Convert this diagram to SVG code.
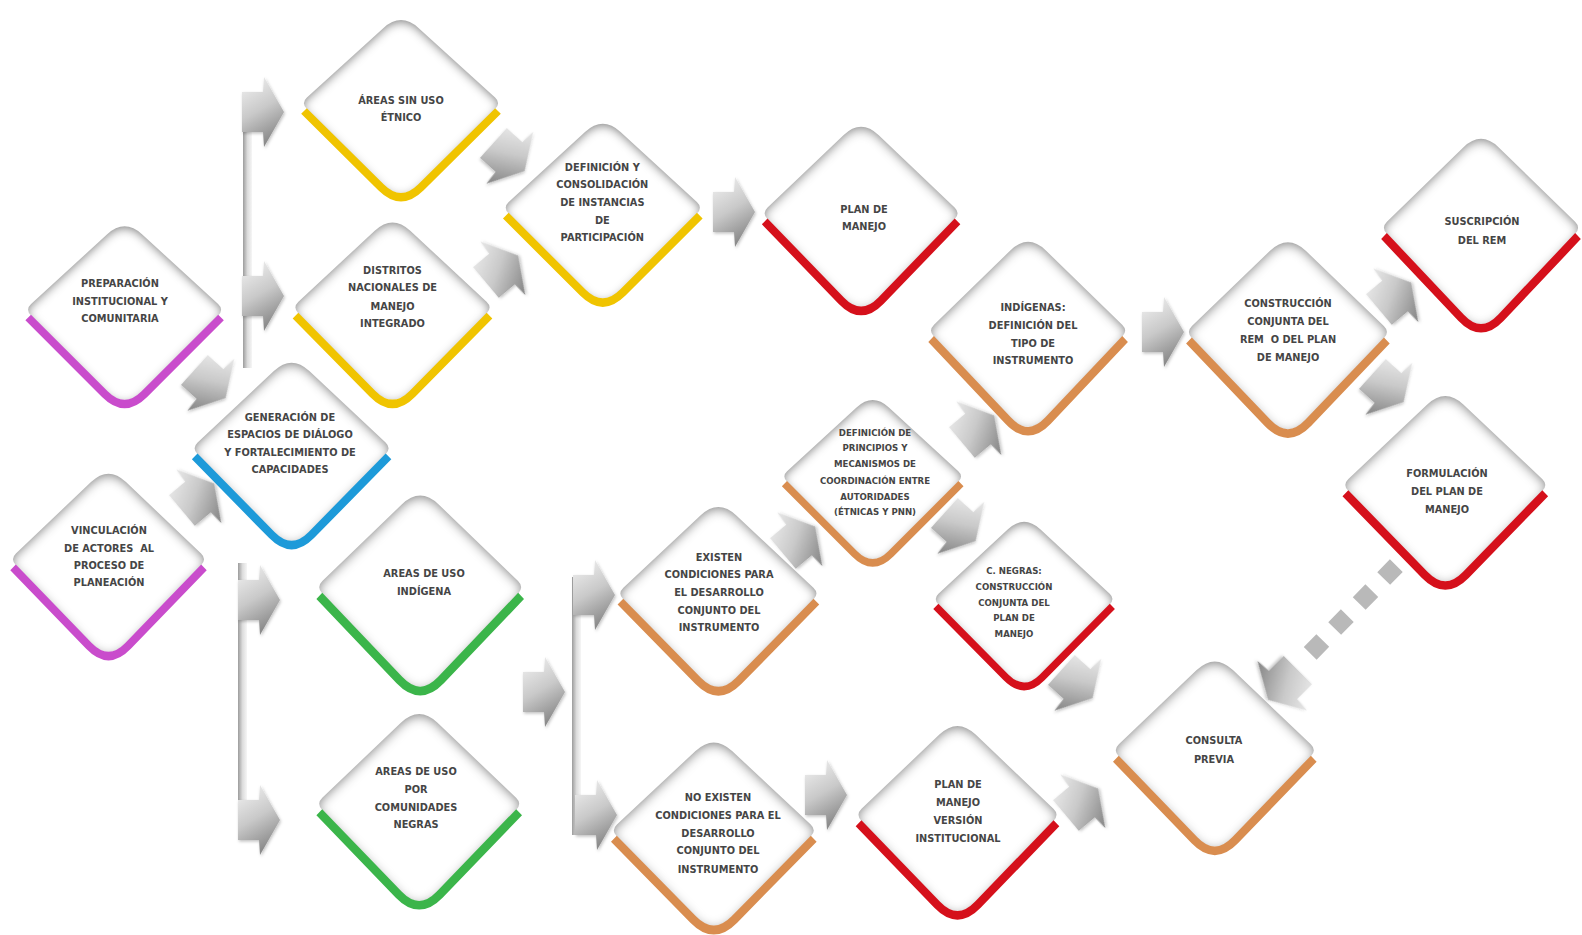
<svg xmlns="http://www.w3.org/2000/svg" xmlns:xlink="http://www.w3.org/1999/xlink" width="1582" height="935" viewBox="0 0 1582 935">
<style>
.t{font-family:"DejaVu Sans","Liberation Sans",sans-serif;font-size:9.8px;font-weight:bold;fill:#454545;text-anchor:middle}
.ts{font-size:8.6px}
.dia{fill:#ffffff;filter:url(#inner)}
.band{fill:none;stroke-width:8;stroke-linejoin:round}
.purple{stroke:#c94ccc}
.blue{stroke:#1d9ad9}
.yellow{stroke:#f0c400}
.green{stroke:#3bb54a}
.red{stroke:#d5101b}
.orange{stroke:#d98d4f}
.arr{fill:url(#ag);filter:url(#sh)}
.bar{fill:url(#bg)}
</style>
<defs>
<filter id="inner" x="-10%" y="-10%" width="120%" height="120%">
<feFlood flood-color="#808080" result="f"/>
<feComposite in="f" in2="SourceAlpha" operator="out" result="out"/>
<feGaussianBlur in="out" stdDeviation="5" result="bl"/>
<feOffset in="bl" dy="3" result="off"/>
<feComposite in="off" in2="SourceAlpha" operator="in" result="inn"/>
<feMerge><feMergeNode in="SourceGraphic"/><feMergeNode in="inn"/></feMerge>
</filter>
<filter id="sh" x="-30%" y="-30%" width="160%" height="160%">
<feDropShadow dx="1" dy="1.5" stdDeviation="1.5" flood-color="#000" flood-opacity="0.25"/>
</filter>
<linearGradient id="ag" x1="0" y1="0" x2="0.35" y2="1">
<stop offset="0" stop-color="#f4f4f4"/>
<stop offset="0.55" stop-color="#c9c9c9"/>
<stop offset="1" stop-color="#8c8c8c"/>
</linearGradient>
<linearGradient id="bg" x1="0" y1="0" x2="1" y2="0">
<stop offset="0" stop-color="#9c9c9c"/>
<stop offset="0.5" stop-color="#dcdcdc"/>
<stop offset="1" stop-color="#f6f6f6"/>
</linearGradient>
<path id="dia" d="M -17.8,-78.8 Q 0,-95 17.8,-78.8 L 94.1,-9.4 Q 100,-4 94.3,1.7 L 19.8,76.2 Q 0,96 -19.8,76.2 L -94.3,1.7 Q -100,-4 -94.1,-9.4 Z"/>
<path id="band" d="M -97,4 L -19.9,80.3 Q 0,100 19.9,80.3 L 97,4"/>
<path id="arr" d="M -21,-20 L 0,-20 L 1,-35 L 21,0 L 1,35 L 0,20 L -21,20 Z"/>
</defs>
<rect width="1582" height="935" fill="#ffffff"/>

<g id="connectors">
<rect class="bar" x="243" y="96" width="9" height="272"/>
<use href="#arr" class="arr" transform="translate(263,112)"/>
<use href="#arr" class="arr" transform="translate(263,296)"/>
<rect class="bar" x="238" y="563" width="9" height="275"/>
<use href="#arr" class="arr" transform="translate(259,600)"/>
<use href="#arr" class="arr" transform="translate(259,820)"/>
<rect class="bar" x="572" y="577" width="9" height="258"/>
<use href="#arr" class="arr" transform="translate(594,595)"/>
<use href="#arr" class="arr" transform="translate(596,815)"/>
<use href="#arr" class="arr" transform="translate(210,384) rotate(42)"/>
<use href="#arr" class="arr" transform="translate(198,497) rotate(-40)"/>
<use href="#arr" class="arr" transform="translate(509,157) rotate(42)"/>
<use href="#arr" class="arr" transform="translate(502,269) rotate(-40)"/>
<use href="#arr" class="arr" transform="translate(734,212)"/>
<use href="#arr" class="arr" transform="translate(544,692)"/>
<use href="#arr" class="arr" transform="translate(799,540) rotate(-40)"/>
<use href="#arr" class="arr" transform="translate(978,429) rotate(-40)"/>
<use href="#arr" class="arr" transform="translate(960,527) rotate(42)"/>
<use href="#arr" class="arr" transform="translate(1163,332)"/>
<use href="#arr" class="arr" transform="translate(1395,296) rotate(-40)"/>
<use href="#arr" class="arr" transform="translate(1388,388) rotate(42)"/>
<use href="#arr" class="arr" transform="translate(1077,684) rotate(42)"/>
<use href="#arr" class="arr" transform="translate(1082,802) rotate(-40)"/>
<use href="#arr" class="arr" transform="translate(826,795)"/>
<line x1="1396.3" y1="565.6" x2="1310.2" y2="653.4" stroke="#b9b9b9" stroke-width="18" stroke-dasharray="18 17"/>
<use href="#arr" class="arr" transform="translate(1283,685) rotate(135)"/>
</g>

<g id="n1">
<use href="#dia" class="dia" transform="translate(124.6,313.5) scale(0.994,1.003)"/>
<use href="#band" class="band purple" transform="translate(124.6,313.5) scale(0.994,1.003)"/>
<text class="t"><tspan x="120" y="287.3">PREPARACIÓN</tspan><tspan x="120" y="304.5">INSTITUCIONAL Y</tspan><tspan x="120" y="321.6">COMUNITARIA</tspan></text>
</g>
<g id="n2">
<use href="#dia" class="dia" transform="translate(108.5,563.2) scale(0.984,1.03)"/>
<use href="#band" class="band purple" transform="translate(108.5,563.2) scale(0.984,1.03)"/>
<text class="t"><tspan x="109" y="533.5">VINCULACIÓN</tspan><tspan x="109" y="551.6">DE ACTORES&#160; AL</tspan><tspan x="109" y="568.8">PROCESO DE</tspan><tspan x="109" y="586">PLANEACIÓN</tspan></text>
</g>
<g id="n3">
<use href="#dia" class="dia" transform="translate(291.6,452.2) scale(0.999,1.03)"/>
<use href="#band" class="band blue" transform="translate(291.6,452.2) scale(0.999,1.03)"/>
<text class="t"><tspan x="290" y="420.5">GENERACIÓN DE</tspan><tspan x="290" y="437.6">ESPACIOS DE DIÁLOGO</tspan><tspan x="290" y="455.8">Y FORTALECIMIENTO DE</tspan><tspan x="290" y="473">CAPACIDADES</tspan></text>
</g>
<g id="n4">
<use href="#dia" class="dia" transform="translate(401,107) scale(1,1)"/>
<use href="#band" class="band yellow" transform="translate(401,107) scale(1,1)"/>
<text class="t"><tspan x="401" y="103.7">ÁREAS SIN USO</tspan><tspan x="401" y="120.8">ÉTNICO</tspan></text>
</g>
<g id="n5">
<use href="#dia" class="dia" transform="translate(392.5,311.5) scale(1,1.025)"/>
<use href="#band" class="band yellow" transform="translate(392.5,311.5) scale(1,1.025)"/>
<text class="t"><tspan x="392.5" y="274.2">DISTRITOS</tspan><tspan x="392.5" y="291.3">NACIONALES DE</tspan><tspan x="392.5" y="309.5">MANEJO</tspan><tspan x="392.5" y="326.7">INTEGRADO</tspan></text>
</g>
<g id="n6">
<use href="#dia" class="dia" transform="translate(602.8,211.6) scale(1,1.01)"/>
<use href="#band" class="band yellow" transform="translate(602.8,211.6) scale(1,1.01)"/>
<text class="t"><tspan x="602.3" y="171.3">DEFINICIÓN Y</tspan><tspan x="602.3" y="188.4">CONSOLIDACIÓN</tspan><tspan x="602.3" y="205.6">DE INSTANCIAS</tspan><tspan x="602.3" y="223.7">DE</tspan><tspan x="602.3" y="240.9">PARTICIPACIÓN</tspan></text>
</g>
<g id="n7">
<use href="#dia" class="dia" transform="translate(861.1,217.2) scale(0.994,1.04)"/>
<use href="#band" class="band red" transform="translate(861.1,217.2) scale(0.994,1.04)"/>
<text class="t"><tspan x="864" y="212.6">PLAN DE</tspan><tspan x="864" y="229.8">MANEJO</tspan></text>
</g>
<g id="n8">
<use href="#dia" class="dia" transform="translate(1028.1,334.7) scale(1,1.07)"/>
<use href="#band" class="band orange" transform="translate(1028.1,334.7) scale(1,1.07)"/>
<text class="t"><tspan x="1033" y="310.5">INDÍGENAS:</tspan><tspan x="1033" y="328.7">DEFINICIÓN DEL</tspan><tspan x="1033" y="346.8">TIPO DE</tspan><tspan x="1033" y="364">INSTRUMENTO</tspan></text>
</g>
<g id="n9">
<use href="#dia" class="dia" transform="translate(1287.9,336.2) scale(1.02,1.08)"/>
<use href="#band" class="band orange" transform="translate(1287.9,336.2) scale(1.02,1.08)"/>
<text class="t"><tspan x="1288" y="306.5">CONSTRUCCIÓN</tspan><tspan x="1288" y="324.6">CONJUNTA DEL</tspan><tspan x="1288" y="342.8">REM&#160; O DEL PLAN</tspan><tspan x="1288" y="361">DE MANEJO</tspan></text>
</g>
<g id="n10">
<use href="#dia" class="dia" transform="translate(1481,231.8) scale(1,1.07)"/>
<use href="#band" class="band red" transform="translate(1481,231.8) scale(1,1.07)"/>
<text class="t"><tspan x="1482" y="224.8">SUSCRIPCIÓN</tspan><tspan x="1482" y="243.9">DEL REM</tspan></text>
</g>
<g id="n11">
<use href="#dia" class="dia" transform="translate(1445.3,489) scale(1.03,1.07)"/>
<use href="#band" class="band red" transform="translate(1445.3,489) scale(1.03,1.07)"/>
<text class="t"><tspan x="1447" y="477">FORMULACIÓN</tspan><tspan x="1447" y="495">DEL PLAN DE</tspan><tspan x="1447" y="513.3">MANEJO</tspan></text>
</g>
<g id="n12">
<use href="#dia" class="dia" transform="translate(872.7,480) scale(0.91,0.92)"/>
<use href="#band" class="band orange" transform="translate(872.7,480) scale(0.91,0.92)"/>
<text class="t ts"><tspan x="875" y="436">DEFINICIÓN DE</tspan><tspan x="875" y="451.3">PRINCIPIOS Y</tspan><tspan x="875" y="467.4">MECANISMOS DE</tspan><tspan x="875" y="483.6">COORDINACIÓN ENTRE</tspan><tspan x="875" y="499.7">AUTORIDADES</tspan><tspan x="875" y="514.8">(ÉTNICAS Y PNN)</tspan></text>
</g>
<g id="n13">
<use href="#dia" class="dia" transform="translate(718.4,597.5) scale(1.01,1.04)"/>
<use href="#band" class="band orange" transform="translate(718.4,597.5) scale(1.01,1.04)"/>
<text class="t"><tspan x="719" y="560.7">EXISTEN</tspan><tspan x="719" y="577.9">CONDICIONES PARA</tspan><tspan x="719" y="596">EL DESARROLLO</tspan><tspan x="719" y="614.2">CONJUNTO DEL</tspan><tspan x="719" y="631.4">INSTRUMENTO</tspan></text>
</g>
<g id="n14">
<use href="#dia" class="dia" transform="translate(1024.1,602.6) scale(0.91,0.93)"/>
<use href="#band" class="band red" transform="translate(1024.1,602.6) scale(0.91,0.93)"/>
<text class="t ts"><tspan x="1014" y="573.5">C. NEGRAS:</tspan><tspan x="1014" y="589.7">CONSTRUCCIÓN</tspan><tspan x="1014" y="605.8">CONJUNTA DEL</tspan><tspan x="1014" y="621">PLAN DE</tspan><tspan x="1014" y="637">MANEJO</tspan></text>
</g>
<g id="n15">
<use href="#dia" class="dia" transform="translate(1214.8,754.4) scale(1.02,1.07)"/>
<use href="#band" class="band orange" transform="translate(1214.8,754.4) scale(1.02,1.07)"/>
<text class="t"><tspan x="1214" y="744.4">CONSULTA</tspan><tspan x="1214" y="762.5">PREVIA</tspan></text>
</g>
<g id="n16">
<use href="#dia" class="dia" transform="translate(420.2,591.5) scale(1.04,1.105)"/>
<use href="#band" class="band green" transform="translate(420.2,591.5) scale(1.04,1.105)"/>
<text class="t"><tspan x="424" y="576.8">AREAS DE USO</tspan><tspan x="424" y="595">INDÍGENA</tspan></text>
</g>
<g id="n17">
<use href="#dia" class="dia" transform="translate(419.2,807.9) scale(1.03,1.08)"/>
<use href="#band" class="band green" transform="translate(419.2,807.9) scale(1.03,1.08)"/>
<text class="t"><tspan x="416" y="774.6">AREAS DE USO</tspan><tspan x="416" y="792.8">POR</tspan><tspan x="416" y="810.9">COMUNIDADES</tspan><tspan x="416" y="828.1">NEGRAS</tspan></text>
</g>
<g id="n18">
<use href="#dia" class="dia" transform="translate(713.8,834.5) scale(1.03,1.06)"/>
<use href="#band" class="band orange" transform="translate(713.8,834.5) scale(1.03,1.06)"/>
<text class="t"><tspan x="718" y="800.8">NO EXISTEN</tspan><tspan x="718" y="819">CONDICIONES PARA EL</tspan><tspan x="718" y="837.2">DESARROLLO</tspan><tspan x="718" y="854.3">CONJUNTO DEL</tspan><tspan x="718" y="872.5">INSTRUMENTO</tspan></text>
</g>
<g id="n19">
<use href="#dia" class="dia" transform="translate(957.5,818.9) scale(1.02,1.07)"/>
<use href="#band" class="band red" transform="translate(957.5,818.9) scale(1.02,1.07)"/>
<text class="t"><tspan x="958" y="787.8">PLAN DE</tspan><tspan x="958" y="805.9">MANEJO</tspan><tspan x="958" y="824.1">VERSIÓN</tspan><tspan x="958" y="842.2">INSTITUCIONAL</tspan></text>
</g>
</svg>
